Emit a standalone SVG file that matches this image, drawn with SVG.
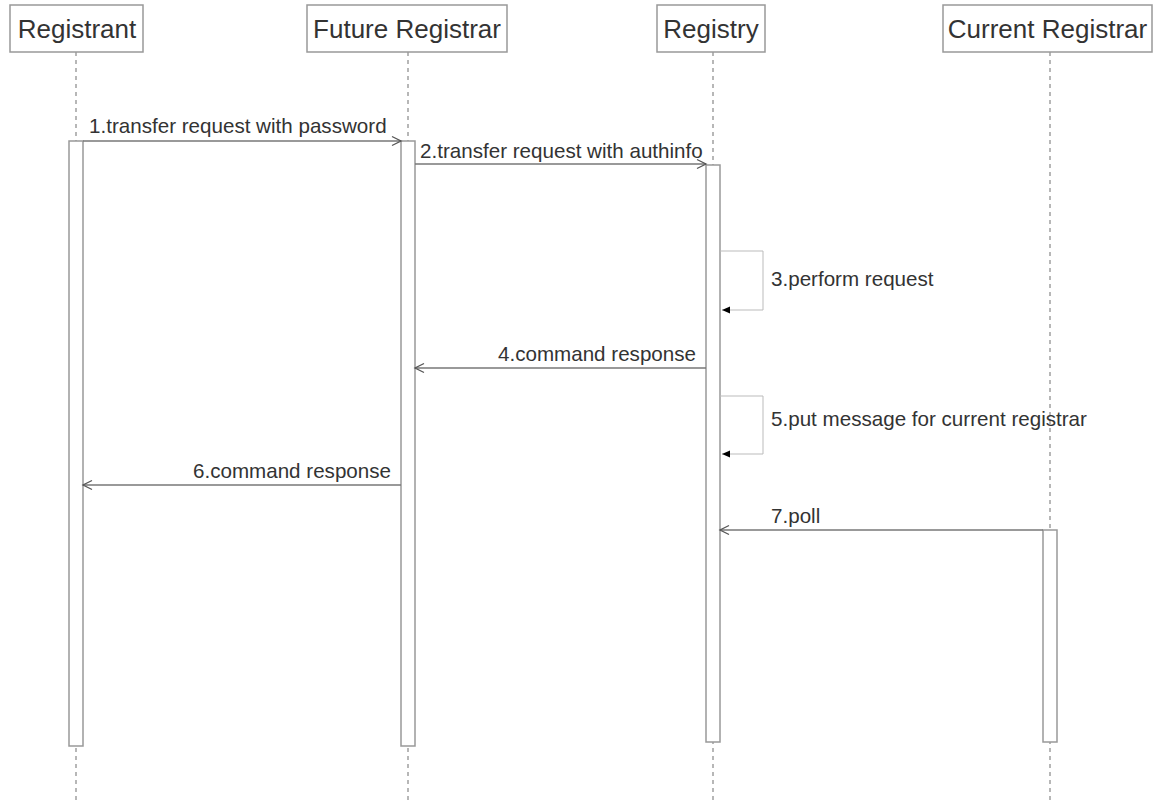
<svg xmlns="http://www.w3.org/2000/svg" width="1157" height="800" viewBox="0 0 1157 800">
<style>
.hdr{fill:#fff;stroke:#999;stroke-width:1.5}
.ht{font-family:"Liberation Sans",Arial,sans-serif;font-size:26px;fill:#333;text-anchor:middle}
.life{stroke:#888;stroke-width:1.2;stroke-dasharray:4,4}
.act{fill:#fff;stroke:#999;stroke-width:1.5}
.msg{stroke:#777;stroke-width:1.3;fill:none}
.loop{stroke:#bbb;stroke-width:1;fill:none}
.lt{font-family:"Liberation Sans",Arial,sans-serif;font-size:20.6px;fill:#333}
</style>
<defs>
<marker id="open" markerWidth="12" markerHeight="12" refX="10" refY="6" orient="auto" markerUnits="userSpaceOnUse">
<path d="M1,1.5 L10,6 L1,10.5" fill="none" stroke="#555" stroke-width="1.3"/>
</marker>
<marker id="fill" markerWidth="10" markerHeight="10" refX="8" refY="4" orient="auto" markerUnits="userSpaceOnUse">
<path d="M0,0.5 L8,4 L0,7.5 Z" fill="#000"/>
</marker>
</defs>
<rect width="1157" height="800" fill="#fff"/>
<g id="registrant">
<line class="life" x1="76" y1="52" x2="76" y2="800"/>
<rect class="hdr" x="10" y="5" width="133" height="47"/>
<text class="ht" x="77" y="38">Registrant</text>
<rect class="act" x="69" y="141" width="14" height="605"/>
</g>
<g id="future-registrar">
<line class="life" x1="408" y1="52" x2="408" y2="800"/>
<rect class="hdr" x="307" y="5" width="200" height="47"/>
<text class="ht" x="407" y="38">Future Registrar</text>
<rect class="act" x="401" y="141" width="14" height="605"/>
</g>
<g id="registry">
<line class="life" x1="713" y1="52" x2="713" y2="800"/>
<rect class="hdr" x="657" y="5" width="108" height="47"/>
<text class="ht" x="711" y="38">Registry</text>
<rect class="act" x="706" y="165" width="14" height="577"/>
</g>
<g id="current-registrar">
<line class="life" x1="1050" y1="52" x2="1050" y2="800"/>
<rect class="hdr" x="943" y="5" width="209" height="47"/>
<text class="ht" x="1047.5" y="38">Current Registrar</text>
<rect class="act" x="1043" y="530" width="14" height="212"/>
</g>
<g id="connectors">
<line class="msg" x1="83" y1="141" x2="401" y2="141" marker-end="url(#open)"/>
<text class="lt" x="89" y="133">1.transfer request with password</text>
<line class="msg" x1="415" y1="164" x2="706" y2="164" marker-end="url(#open)"/>
<text class="lt" x="420" y="158">2.transfer request with authinfo</text>
<polyline class="loop" points="720,251 763,251 763,310 722,310" marker-end="url(#fill)"/>
<text class="lt" x="771" y="286">3.perform request</text>
<line class="msg" x1="706" y1="368" x2="415" y2="368" marker-end="url(#open)"/>
<text class="lt" x="696" y="361" text-anchor="end">4.command response</text>
<polyline class="loop" points="720,396 763,396 763,454 722,454" marker-end="url(#fill)"/>
<text class="lt" x="771" y="426">5.put message for current registrar</text>
<line class="msg" x1="401" y1="485" x2="83" y2="485" marker-end="url(#open)"/>
<text class="lt" x="391" y="478" text-anchor="end">6.command response</text>
<line class="msg" x1="1043" y1="530" x2="720" y2="530" marker-end="url(#open)"/>
<text class="lt" x="771" y="523">7.poll</text>
</g>
</svg>
